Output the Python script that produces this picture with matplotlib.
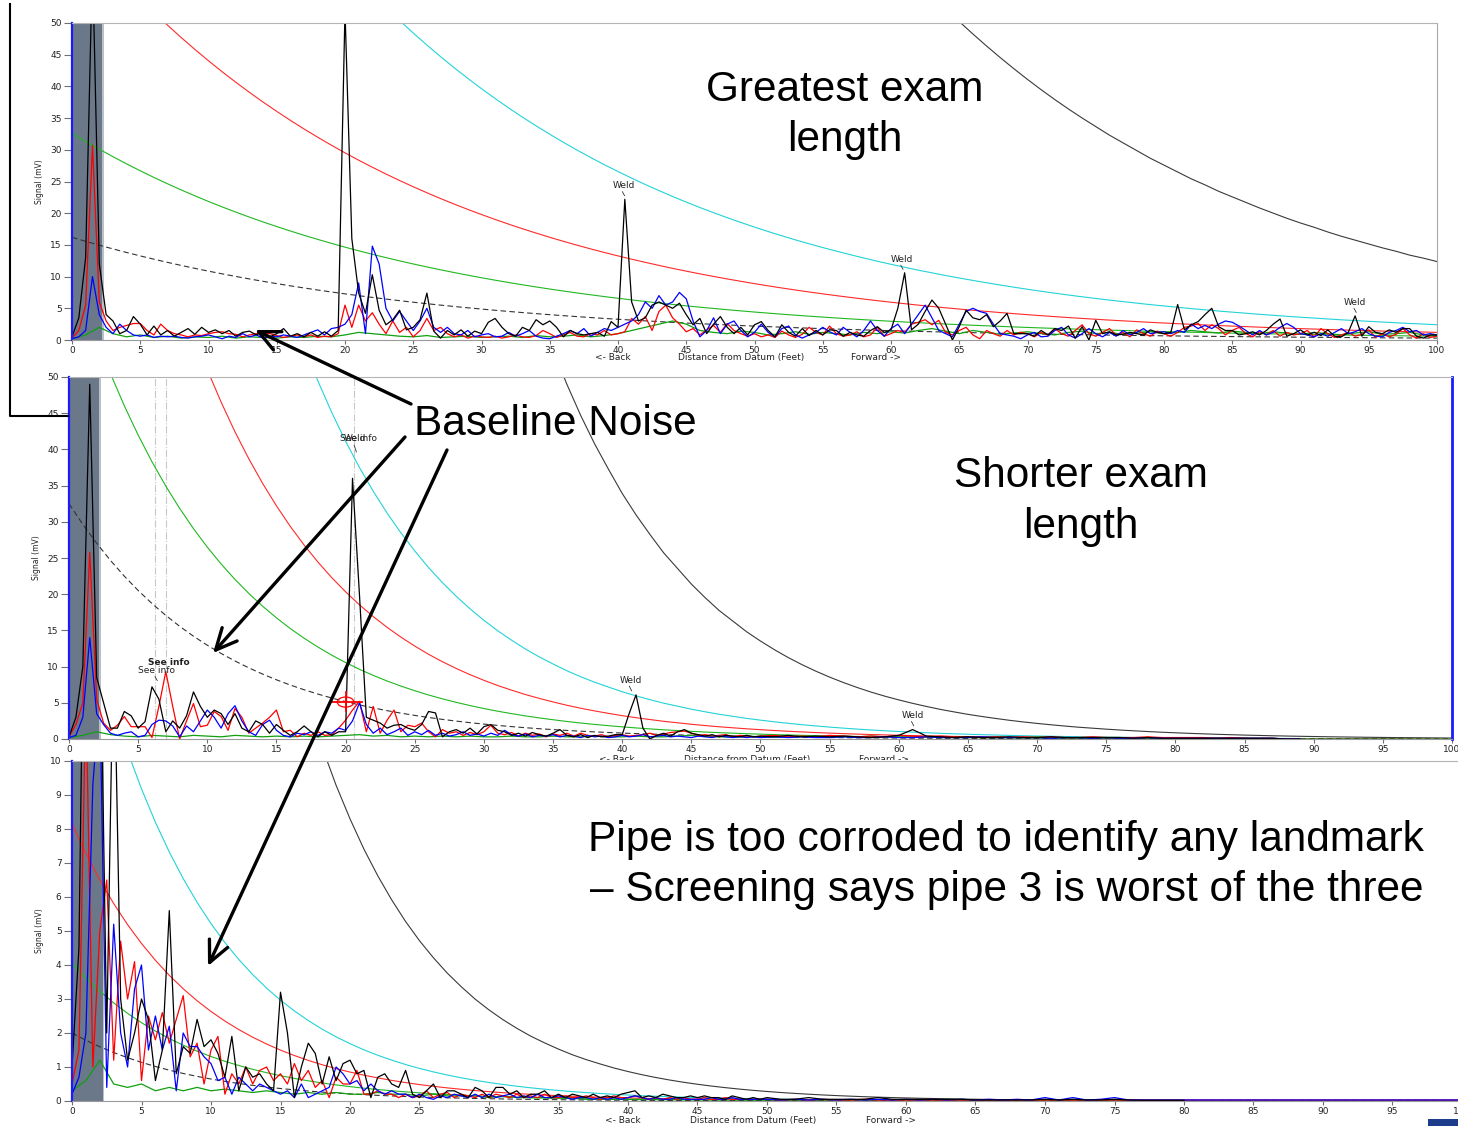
import numpy as np
import matplotlib
matplotlib.use('Agg')
import matplotlib.pyplot as plt
from matplotlib.patches import Rectangle, FancyArrowPatch, Ellipse
from matplotlib.lines import Line2D

# ---------------- DATA ----------------
X_TICKS = list(range(0, 101, 5))
Y_TICKS_12 = list(range(0, 51, 5))
Y_TICKS_3 = list(range(0, 11, 1))

# DAC (distance-amplitude) curves: relative level at 1 ft steps
# (0..100 ft) for each panel, and the level of each curve at 0 ft (mV).
P1_DAC_LEVEL = [
    1.000, 0.9608, 0.9231, 0.8869, 0.8521, 0.8187, 0.7866, 0.7558, 0.7261, 0.6977,
    0.6703, 0.6440, 0.6188, 0.5945, 0.5712, 0.5488, 0.5273, 0.5066, 0.4868, 0.4677,
    0.4493, 0.4317, 0.4148, 0.3985, 0.3829, 0.3679, 0.3535, 0.3396, 0.3263, 0.3135,
    0.3012, 0.2894, 0.2780, 0.2671, 0.2567, 0.2466, 0.2369, 0.2276, 0.2187, 0.2101,
    0.2019, 0.1940, 0.1864, 0.1791, 0.1720, 0.1653, 0.1588, 0.1526, 0.1466, 0.1409,
    0.1353, 0.1300, 0.1249, 0.1200, 0.1153, 0.1108, 0.1065, 0.1023, 0.0983, 0.0944,
    0.0907, 0.0872, 0.0837, 0.0805, 0.0773, 0.0743, 0.0714, 0.0686, 0.0659, 0.0633,
    0.0608, 0.0584, 0.0561, 0.0539, 0.0518, 0.0498, 0.0478, 0.0460, 0.0442, 0.0424,
    0.0408, 0.0392, 0.0376, 0.0362, 0.0347, 0.0334, 0.0321, 0.0308, 0.0296, 0.0284,
    0.0273, 0.0263, 0.0252, 0.0242, 0.0233, 0.0224, 0.0215, 0.0207, 0.0198, 0.0191,
    0.0183]
P2_DAC_LEVEL = [
    1.000, 0.9121, 0.8319, 0.7588, 0.6921, 0.6313, 0.5758, 0.5252, 0.4790, 0.4369,
    0.3985, 0.3635, 0.3315, 0.3024, 0.2758, 0.2516, 0.2294, 0.2093, 0.1909, 0.1741,
    0.1588, 0.1448, 0.1321, 0.1205, 0.1099, 0.1003, 0.0914, 0.0834, 0.0761, 0.0694,
    0.0633, 0.0577, 0.0527, 0.0480, 0.0438, 0.0400, 0.0364, 0.0332, 0.0303, 0.0277,
    0.0252, 0.0230, 0.0210, 0.0191, 0.0175, 0.0159, 0.0145, 0.0132, 0.0121, 0.0110,
    0.01005, 0.00917, 0.00836, 0.00763, 0.00696, 0.00635, 0.00579, 0.00528, 0.00481, 0.00439,
    0.00401, 0.00366, 0.00334, 0.00304, 0.00278, 0.00253, 0.00231, 0.00211, 0.00192, 0.00175,
    0.00160, 0.00146, 0.00133, 0.00121, 0.00111, 0.00101, 0.00092, 0.00084, 0.000765, 0.000698,
    0.000637, 0.000581, 0.000530, 0.000483, 0.000441, 0.000402, 0.000367, 0.000334, 0.000305, 0.000278,
    0.000254, 0.000231, 0.000211, 0.000193, 0.000176, 0.000160, 0.000146, 0.000133, 0.000122, 0.000111,
    0.000101]
P3_DAC_LEVEL = [
    1.000, 0.8932, 0.7977, 0.7125, 0.6364, 0.5684, 0.5077, 0.4534, 0.4050, 0.3617,
    0.3230, 0.2885, 0.2577, 0.2302, 0.2056, 0.1836, 0.1640, 0.1465, 0.1308, 0.1168,
    0.1044, 0.0932, 0.0833, 0.0744, 0.0664, 0.0593, 0.0530, 0.0473, 0.0423, 0.0377,
    0.0337, 0.0301, 0.0269, 0.0240, 0.0215, 0.0192, 0.0171, 0.0153, 0.0137, 0.0122,
    0.0109, 0.00973, 0.00869, 0.00776, 0.00693, 0.00619, 0.00553, 0.00494, 0.00441, 0.00394,
    0.00352, 0.00314, 0.00281, 0.00251, 0.00224, 0.00200, 0.00179, 0.00159, 0.00142, 0.00127,
    0.00114, 0.00101, 0.000906, 0.000809, 0.000723, 0.000645, 0.000576, 0.000515, 0.000460, 0.000411,
    0.000367, 0.000328, 0.000293, 0.000261, 0.000233, 0.000209, 0.000186, 0.000166, 0.000149, 0.000133,
    0.000118, 0.000106, 0.0000944, 0.0000843, 0.0000753, 0.0000673, 0.0000601, 0.0000537, 0.0000479, 0.0000428,
    0.0000382, 0.0000341, 0.0000305, 0.0000272, 0.0000243, 0.0000217, 0.0000194, 0.0000173, 0.0000155, 0.0000138,
    0.0000123]
# level at 0 ft of: dashed black, green, red, cyan, solid black
P1_DAC_START = [16.2, 32.6, 65.7, 131.6, 676]
P2_DAC_START = [32.5, 66.5, 128, 259, 1346]
P3_DAC_START = [2.0, 4.05, 8.15, 16.15, 79.5]

# Signal traces, panel 1: 0.5 ft steps from 0 to 100
P1_TR_BLACK = [
    0.5, 3.5, 13, 60, 12, 4.0, 3.0, 1.0, 1.5, 3.7,
    2.5, 0.8, 2.2, 0.8, 1.5, 0.6, 1.2, 1.8, 0.9, 2.0,
    1.2, 1.6, 1.0, 1.5, 0.6, 1.2, 1.4, 0.8, 1.3, 0.5,
    1.0, 1.8, 0.6, 1.0, 0.5, 1.2, 0.6, 1.3, 0.6, 1.5,
    52, 16, 7.4, 4.2, 10.3, 4.7, 2.4, 3.2, 4.7, 1.6,
    2.0, 3.2, 7.4, 1.4, 0.3, 1.5, 0.8, 1.6, 0.6, 1.4,
    1.0, 2.8, 3.4, 2.0, 1.0, 0.6, 2.0, 1.5, 3.2, 2.4,
    3.0, 2.0, 0.5, 1.5, 1.0, 0.8, 1.0, 1.2, 0.6, 2.9,
    2.0, 22.2, 6.0, 3.0, 3.5, 5.5, 6.0, 5.5, 5.0, 5.8,
    4.0, 2.4, 3.4, 1.0, 2.5, 3.7, 2.0, 1.0, 2.0, 0.8,
    2.4, 2.9, 1.5, 0.5, 2.4, 1.2, 0.6, 1.8, 0.7, 1.5,
    0.8, 1.6, 1.5, 0.6, 1.2, 0.8, 0.6, 1.5, 2.1, 1.2,
    1.6, 5.0, 10.6, 1.6, 2.5, 4.5, 6.3, 5.0, 2.5, 0.0,
    2.1, 4.7, 3.5, 3.2, 4.0, 2.1, 3.0, 4.2, 1.0, 1.0,
    1.0, 0.6, 1.5, 0.8, 1.8, 1.5, 2.2, 0.3, 2.1, 0.0,
    3.1, 1.0, 1.3, 0.8, 0.9, 1.2, 1.0, 0.8, 1.6, 1.2,
    1.0, 1.2, 5.6, 1.6, 2.4, 2.9, 4.0, 5.0, 2.1, 1.5,
    1.5, 0.8, 1.0, 1.3, 0.8, 1.5, 2.5, 3.3, 0.6, 1.0,
    1.6, 0.8, 1.2, 0.7, 1.6, 0.6, 0.5, 1.2, 3.8, 0.6,
    2.1, 1.2, 1.0, 1.6, 1.2, 1.8, 1.8, 0.6, 0.3, 0.8,
    0.8]
P1_TR_RED = [
    0.3, 1.5, 5.5, 30.7, 6.0, 3.0, 1.5, 2.0, 2.3, 2.6,
    2.6, 1.5, 0.8, 2.5, 1.5, 1.0, 0.8, 0.5, 0.8, 0.7,
    1.0, 1.2, 1.3, 1.0, 0.9, 0.5, 0.8, 1.0, 1.2, 1.0,
    0.7, 0.4, 0.6, 0.8, 0.5, 0.8, 0.4, 0.6, 0.5, 1.0,
    5.5, 2.0, 5.5, 3.0, 4.3, 2.5, 1.0, 3.0, 1.2, 2.0,
    0.5, 1.5, 3.4, 1.5, 2.0, 1.0, 0.5, 0.8, 0.3, 0.6,
    0.5, 0.4, 0.6, 0.3, 0.5, 0.8, 0.5, 0.4, 0.7, 1.5,
    1.0, 0.4, 0.8, 1.2, 0.6, 0.5, 1.0, 0.8, 1.5, 0.8,
    1.0, 1.3, 3.4, 2.5, 3.7, 1.5, 4.5, 5.5, 3.5, 2.5,
    1.3, 1.8, 0.8, 1.6, 2.3, 1.2, 2.6, 1.5, 1.0, 0.6,
    1.0, 0.5, 0.8, 0.4, 1.4, 0.8, 0.4, 0.9, 2.0, 1.2,
    0.8, 2.2, 1.0, 0.6, 0.8, 1.3, 0.5, 0.8, 2.0, 0.6,
    1.0, 1.5, 1.2, 2.5, 2.8, 3.2, 2.4, 3.1, 1.2, 0.8,
    1.5, 2.0, 0.8, 0.2, 1.5, 1.0, 0.6, 1.5, 0.8, 1.2,
    1.0, 0.5, 1.2, 0.8, 1.8, 1.0, 0.6, 1.5, 2.4, 1.0,
    0.6, 1.2, 1.8, 0.8, 1.2, 0.5, 1.6, 1.0, 0.6, 1.4,
    1.0, 0.6, 1.2, 2.0, 2.2, 2.6, 1.5, 2.4, 1.8, 0.8,
    1.5, 2.0, 1.0, 0.5, 1.3, 0.8, 1.5, 0.6, 1.2, 0.8,
    1.0, 1.5, 0.5, 1.8, 1.0, 0.4, 0.8, 1.2, 0.6, 0.9,
    1.6, 0.4, 1.0, 0.5, 0.9, 1.8, 0.8, 0.3, 1.0, 0.4,
    0.6]
P1_TR_BLUE = [
    0.2, 0.5, 1.5, 10.0, 4.0, 2.0, 1.0, 2.5, 1.5, 0.8,
    0.6, 0.8, 0.4, 0.6, 0.5, 0.6, 0.4, 0.3, 0.5, 0.6,
    0.8, 0.5, 0.2, 0.6, 0.4, 1.0, 0.5, 0.8, 0.3, 0.6,
    0.5, 0.8, 0.6, 0.4, 0.8, 1.2, 1.6, 0.8, 1.8, 2.0,
    2.5, 4.0, 9.0, 1.0, 14.8, 12.0, 5.0, 3.0, 4.5, 3.0,
    1.5, 3.0, 5.0, 2.0, 1.2, 2.0, 1.0, 0.8, 1.5, 0.5,
    0.8, 1.0, 0.5, 0.6, 1.2, 0.6, 1.0, 1.5, 0.6, 0.3,
    0.2, 0.6, 1.0, 1.5, 1.0, 1.8, 0.6, 1.2, 1.8, 1.5,
    2.0, 2.5, 3.0, 4.0, 6.0, 5.0, 7.0, 5.5, 6.0, 7.5,
    6.5, 3.0, 0.5, 1.5, 3.5, 1.0, 2.5, 3.0, 1.5, 0.5,
    1.2, 2.5, 1.2, 0.5, 1.8, 2.2, 0.8, 0.3, 0.8, 1.2,
    2.0, 1.3, 0.8, 2.0, 1.2, 0.5, 1.5, 3.0, 1.5, 0.6,
    1.8, 2.5, 1.0, 2.5, 4.0, 5.5, 3.5, 1.5, 1.0, 0.5,
    2.5, 4.5, 5.0, 4.5, 4.2, 2.5, 1.0, 0.8, 0.6, 0.2,
    0.8, 1.2, 0.5, 0.6, 1.5, 2.0, 0.8, 0.3, 1.0, 1.8,
    1.0, 0.5, 1.2, 0.6, 1.5, 0.8, 1.2, 1.8, 1.0, 1.2,
    1.3, 1.0, 1.5, 1.2, 2.5, 1.8, 2.3, 1.8, 2.5, 3.0,
    2.8, 2.2, 1.5, 0.8, 1.5, 0.8, 1.2, 2.0, 2.6, 2.0,
    1.0, 0.8, 0.5, 1.0, 0.6, 1.2, 1.8, 1.0, 1.3, 1.8,
    1.0, 0.6, 0.5, 1.2, 1.5, 2.0, 1.3, 1.5, 0.8, 1.0,
    0.8]
# green trace, 1 ft steps
P1_TR_GREEN = [0.2, 0.8, 2.0, 1.0, 0.5, 0.8, 0.4, 0.6, 0.3, 0.5, 0.4, 0.6, 0.3, 0.5, 0.4, 0.3, 0.5,
               0.4, 0.6, 0.5, 0.8, 1.2, 1.0, 0.8, 0.6, 0.5, 0.7, 0.4, 0.5, 0.6, 0.4, 0.5, 0.6, 0.4,
               0.7, 0.5, 0.6, 0.8, 0.5, 0.7, 1.0, 1.5, 2.0, 2.5, 3.0, 2.5, 1.5, 1.2, 1.0, 1.4, 1.2,
               0.8, 1.0, 1.3, 0.9, 1.2, 1.0, 0.8, 1.2, 1.0, 1.3, 1.1, 1.5, 1.8, 1.4, 1.0, 1.5, 1.2,
               0.9, 1.1, 1.3, 1.0, 0.8, 1.2, 1.4, 1.0, 1.2, 0.9, 1.1, 1.3, 1.0, 1.2, 1.5, 1.3, 1.1,
               1.4, 1.2, 1.0, 1.3, 1.1, 0.9, 1.2, 1.0, 0.8, 1.1, 1.3, 0.9, 1.0, 1.2, 0.8, 0.7]

# Panels 2 and 3: head = 0.5 ft steps from 0 to 49.5, tail = 1 ft steps from 50
P2_TR_BLACK = [
    0.3, 3.0, 10, 49, 8.5, 5.0, 1.5, 1.5, 3.8, 3.2,
    1.5, 2.4, 7.2, 5.5, 1.0, 2.5, 1.5, 3.2, 6.5, 4.5,
    3.0, 4.0, 3.5, 2.0, 3.5, 1.5, 1.0, 2.5, 2.0, 0.8,
    2.0, 1.2, 0.5, 1.0, 1.8, 1.0, 0.3, 1.0, 0.5, 1.0,
    1.0, 36, 20, 3.0, 2.6, 2.2, 1.5, 1.9, 2.0, 1.5,
    1.2, 2.0, 3.8, 3.6, 0.3, 1.0, 1.3, 0.8, 1.5, 0.7,
    1.7, 2.0, 1.2, 1.0, 0.5, 0.8, 0.4, 0.9, 0.6, 0.4,
    0.8, 1.3, 0.5, 0.3, 0.6, 0.2, 0.5, 0.3, 0.4, 0.6,
    0.6, 3.5, 6.1, 1.5, 0.0, 0.5, 0.8, 0.4, 1.0, 1.3,
    0.8, 0.6, 0.4, 0.6, 0.3, 0.5, 0.4, 0.3, 0.5, 0.3]
P2_TR_BLACK_TAIL = [0.4, 0.3, 0.5, 0.3, 0.4, 0.3, 0.4, 0.3, 0.2, 0.3, 0.5, 1.3, 0.4, 0.3, 0.2, 0.3,
                    0.2, 0.2, 0.3, 0.2, 0.2, 0.3, 0.2, 0.2, 0.2, 0.2, 0.2, 0.1, 0.2, 0.1, 0.1, 0.1,
                    0.1, 0.1, 0.1, 0.1, 0.1, 0.1, 0.0, 0.0]
P2_TR_RED = [
    0.3, 2.0, 5.0, 25.8, 5.5, 2.2, 1.2, 1.9, 3.1, 1.7,
    1.7, 1.7, 0.2, 4.5, 9.3, 4.5, 0.0, 2.5, 4.9, 1.7,
    1.9, 3.8, 3.1, 1.2, 4.2, 3.0, 0.8, 1.5, 2.2, 3.0,
    4.0, 1.0, 1.2, 0.3, 0.8, 0.5, 1.0, 0.5, 0.6, 1.5,
    2.6, 4.0, 5.2, 1.0, 4.5, 0.8, 2.6, 4.0, 1.0, 1.9,
    1.7, 2.2, 1.0, 0.3, 1.3, 0.8, 1.0, 0.5, 0.9, 0.6,
    1.0, 1.9, 0.8, 0.6, 0.9, 0.4, 0.8, 0.5, 0.7, 0.3,
    0.7, 0.5, 0.8, 0.4, 0.8, 0.5, 0.4, 0.6, 0.3, 0.5,
    0.6, 0.4, 0.5, 0.6, 0.8, 0.5, 0.7, 0.9, 1.0, 1.1,
    0.8, 0.5, 0.6, 0.4, 0.5, 0.6, 0.3, 0.5, 0.4, 0.3]
P2_TR_RED_TAIL = [0.4, 0.5, 0.3, 0.4, 0.3, 0.5, 0.4, 0.3, 0.4, 0.3, 0.5, 0.4, 0.3, 0.4, 0.3, 0.3,
                  0.2, 0.3, 0.2, 0.3, 0.2, 0.3, 0.2, 0.2, 0.3, 0.2, 0.2, 0.2, 0.3, 0.2, 0.2, 0.2,
                  0.2, 0.1, 0.2, 0.1, 0.1, 0.1, 0.0, 0.0]
P2_TR_BLUE = [
    0.2, 0.5, 3.0, 14, 3.5, 2.0, 0.8, 0.5, 0.8, 1.0,
    0.3, 0.5, 2.0, 2.6, 2.5, 1.8, 0.3, 1.8, 1.0, 2.5,
    4.0, 3.0, 1.5, 3.5, 4.6, 2.5, 1.0, 0.5, 2.0, 2.6,
    1.2, 0.5, 0.3, 0.8, 0.6, 1.0, 0.5, 1.0, 0.8, 1.5,
    1.2, 2.5, 5.0, 2.0, 0.8, 1.5, 0.6, 1.0, 1.5, 0.5,
    1.0, 0.6, 1.2, 0.5, 0.8, 0.4, 0.6, 1.0, 0.5, 0.7,
    0.4, 0.8, 0.5, 1.2, 0.6, 0.4, 0.7, 0.3, 0.5, 0.4,
    0.6, 0.3, 0.5, 0.4, 0.2, 0.5, 0.3, 0.4, 0.2, 0.3,
    0.5, 0.3, 0.4, 0.6, 0.3, 0.4, 0.5, 0.3, 0.4, 0.3,
    0.2, 0.4, 0.3, 0.2, 0.4, 0.3, 0.2, 0.3, 0.2, 0.3]
P2_TR_BLUE_TAIL = [0.2, 0.3, 0.2, 0.3, 0.2, 0.2, 0.3, 0.2, 0.2, 0.3, 0.2, 0.2, 0.3, 0.2, 0.2, 0.2,
                   0.3, 0.2, 0.2, 0.2, 0.2, 0.1, 0.2, 0.2, 0.1, 0.2, 0.1, 0.1, 0.2, 0.1, 0.1, 0.1,
                   0.1, 0.1, 0.1, 0.1, 0.1, 0.1, 0.0, 0.0]
P2_TR_GREEN = [0.2, 0.5, 1.0, 0.6, 0.4, 0.3, 0.5, 0.4, 0.3, 0.5, 0.4, 0.3, 0.5, 0.4, 0.3, 0.4, 0.3,
               0.4, 0.3, 0.4, 0.5, 0.6, 0.4, 0.5, 0.3, 0.4, 0.3, 0.4, 0.3, 0.4, 0.3, 0.3, 0.4, 0.3,
               0.3, 0.4, 0.3, 0.3, 0.4, 0.3, 0.3, 0.4, 0.3, 0.3, 0.4, 0.5, 0.4, 0.3, 0.3, 0.4, 0.3,
               0.3, 0.3, 0.4, 0.3, 0.3, 0.3, 0.3, 0.4, 0.3, 0.3, 0.3, 0.3, 0.2, 0.3, 0.3, 0.2, 0.3,
               0.2, 0.2, 0.3, 0.2, 0.2, 0.2, 0.2, 0.2, 0.2, 0.1, 0.2, 0.1, 0.1, 0.1, 0.1, 0.1, 0.1,
               0.1, 0.0]

P3_TR_BLACK = [
    1.0, 4.5, 20, 25, 15, 2.0, 14, 3.0, 1.2, 2.0,
    3.0, 2.4, 0.6, 1.5, 5.6, 0.8, 1.6, 1.4, 2.4, 1.6,
    1.8, 1.4, 0.7, 1.9, 0.3, 1.0, 0.7, 0.8, 0.5, 0.3,
    3.2, 2.0, 0.1, 1.0, 1.7, 1.4, 0.5, 1.3, 0.6, 1.1,
    1.2, 0.8, 0.9, 0.1, 0.7, 0.8, 0.5, 0.4, 0.9, 0.2,
    0.1, 0.3, 0.5, 0.1, 0.3, 0.3, 0.2, 0.1, 0.4, 0.3,
    0.1, 0.4, 0.4, 0.2, 0.3, 0.1, 0.2, 0.2, 0.3, 0.1,
    0.2, 0.1, 0.2, 0.15, 0.1, 0.2, 0.1, 0.15, 0.1, 0.2,
    0.25, 0.3, 0.1, 0.15, 0.1, 0.2, 0.15, 0.1, 0.1, 0.15,
    0.1, 0.15, 0.1, 0.1, 0.05, 0.15, 0.1, 0.05, 0.1, 0.05]
P3_TR_BLACK_TAIL = [0.1, 0.05, 0.05, 0.1, 0.05, 0.05, 0.05, 0.05, 0.1, 0.05, 0.05, 0.05, 0.05, 0.05,
                    0.05, 0.03, 0.03, 0.03, 0.03, 0.03, 0.05, 0.03, 0.05, 0.03, 0.03, 0.05, 0.03,
                    0.02, 0.02, 0.02, 0.02]
P3_TR_RED = [
    0.5, 1.5, 12, 1.0, 5.0, 6.5, 1.2, 4.7, 3.0, 4.1,
    0.6, 2.5, 1.8, 2.6, 1.7, 2.4, 3.1, 1.3, 1.7, 0.5,
    1.5, 1.9, 0.2, 0.8, 0.5, 1.0, 0.5, 0.9, 1.0, 0.6,
    0.8, 0.5, 1.1, 0.6, 0.9, 0.4, 0.6, 0.1, 0.7, 0.5,
    0.5, 0.9, 0.2, 0.2, 0.3, 0.2, 0.2, 0.1, 0.2, 0.1,
    0.15, 0.3, 0.1, 0.2, 0.25, 0.1, 0.2, 0.15, 0.1, 0.2,
    0.1, 0.2, 0.15, 0.1, 0.2, 0.1, 0.15, 0.1, 0.2, 0.1,
    0.1, 0.15, 0.1, 0.1, 0.15, 0.1, 0.05, 0.1, 0.15, 0.1,
    0.1, 0.15, 0.1, 0.05, 0.1, 0.05, 0.1, 0.05, 0.1, 0.05,
    0.05, 0.1, 0.05, 0.05, 0.1, 0.05, 0.05, 0.05, 0.05, 0.05]
P3_TR_RED_TAIL = [0.05, 0.03, 0.05, 0.03, 0.05, 0.03, 0.03, 0.05, 0.03, 0.03, 0.03, 0.03, 0.03, 0.03,
                  0.03, 0.03, 0.03, 0.03, 0.03, 0.03, 0.03, 0.03, 0.03, 0.03, 0.03, 0.03, 0.03,
                  0.03, 0.03, 0.03, 0.03, 0.03, 0.03, 0.03, 0.03, 0.03, 0.03, 0.03, 0.03, 0.03,
                  0.03, 0.03, 0.03, 0.03, 0.03, 0.03, 0.03, 0.03, 0.03, 0.03, 0.03]
P3_TR_BLUE = [
    0.2, 0.7, 2.0, 9.3, 12, 0.4, 5.2, 2.0, 1.0, 3.3,
    4.0, 1.5, 2.5, 1.5, 2.2, 0.3, 2.0, 1.6, 1.6, 1.3,
    1.1, 0.6, 0.7, 0.2, 0.7, 0.5, 0.3, 0.5, 0.4, 0.3,
    0.2, 0.3, 0.1, 0.5, 0.1, 0.2, 0.3, 0.4, 1.0, 0.8,
    0.5, 0.6, 0.3, 0.5, 0.3, 0.2, 0.3, 0.2, 0.2, 0.1,
    0.2, 0.1, 0.05, 0.15, 0.1, 0.2, 0.15, 0.1, 0.2, 0.1,
    0.2, 0.1, 0.15, 0.2, 0.1, 0.15, 0.1, 0.2, 0.1, 0.1,
    0.15, 0.1, 0.05, 0.1, 0.1, 0.05, 0.1, 0.05, 0.1, 0.05,
    0.1, 0.15, 0.1, 0.05, 0.1, 0.05, 0.05, 0.1, 0.05, 0.05,
    0.05, 0.05, 0.1, 0.05, 0.05, 0.1, 0.05, 0.05, 0.05, 0.05]
P3_TR_BLUE_TAIL = [0.05, 0.03, 0.05, 0.03, 0.05, 0.03, 0.05, 0.03, 0.05, 0.03, 0.05, 0.03, 0.05,
                   0.03, 0.05, 0.03, 0.05, 0.03, 0.05, 0.03, 0.1, 0.03, 0.1, 0.03, 0.05, 0.1, 0.03,
                   0.03, 0.03, 0.03, 0.03, 0.03, 0.03, 0.03, 0.03, 0.03, 0.03, 0.03, 0.03, 0.03,
                   0.03, 0.03, 0.03, 0.03, 0.03, 0.03, 0.03, 0.03, 0.03, 0.03, 0.03]
P3_TR_GREEN = [0.3, 0.6, 1.2, 0.5, 0.4, 0.5, 0.3, 0.4, 0.3, 0.4, 0.3, 0.35, 0.3, 0.25, 0.3, 0.25,
               0.2, 0.25, 0.2, 0.25, 0.2, 0.2, 0.25, 0.2, 0.2, 0.15, 0.2, 0.15, 0.15, 0.15, 0.1,
               0.15, 0.1, 0.1, 0.1, 0.1, 0.1, 0.05, 0.05, 0.05, 0.05, 0.05, 0.05, 0.05, 0.05]

# ---------------- FIGURE ----------------
W, H = 1458, 1126
fig = plt.figure(figsize=(W / 100, H / 100), dpi=100)
fig.patch.set_facecolor('white')


def fx(x):
    return x / W


def fy(y):
    return 1 - y / H


C_CYAN = '#22d3d8'
C_RED = '#ff2a2a'
C_GREEN = '#20b820'
C_DAC_K = '#3a3a3a'
BAND = '#6b7889'


def make_axes(left, top, right, bottom, ymax, yticks, z, rightcolor='#a8a8a8'):
    ax = fig.add_axes([fx(left), fy(bottom), fx(right - left), (bottom - top) / H], zorder=z)
    ax.set_xlim(0, 100)
    ax.set_ylim(0, ymax)
    ax.set_xticks(X_TICKS)
    ax.set_xticklabels([str(t) for t in X_TICKS])
    ax.set_yticks(yticks)
    ax.set_yticklabels([str(t) for t in yticks])
    ax.tick_params(axis='x', direction='out', length=3, width=0.8, color='#707070',
                   labelsize=6.5, labelcolor='#222222', pad=1.5)
    ax.tick_params(axis='y', direction='out', length=6, width=0.8, color='#707070',
                   labelsize=6.5, labelcolor='#222222', pad=1.5)
    ax.spines['top'].set_color('#b4b4b4')
    ax.spines['bottom'].set_color('#9a9a9a')
    ax.spines['left'].set_color('#1a1aff')
    ax.spines['left'].set_linewidth(1.6)
    ax.spines['right'].set_color(rightcolor)
    ax.set_ylabel('Signal (mV)', fontsize=5.5, family=['Liberation Sans Narrow', 'DejaVu Sans'],
                  color='#222222')
    ax.axvspan(0, 2.2, color=BAND, zorder=0.5, lw=0)
    ax.axvspan(2.2, 2.32, color='#b9c0c8', zorder=0.5, lw=0)
    return ax


def draw_dacs(ax, level, starts):
    xs = np.arange(len(level))
    lv = np.array(level)
    dash, green, red, cyan, black = starts
    ax.plot(xs, black * lv, color=C_DAC_K, lw=0.8, zorder=1)
    ax.plot(xs, cyan * lv, color=C_CYAN, lw=0.8, zorder=1)
    ax.plot(xs, red * lv, color=C_RED, lw=0.8, zorder=1)
    ax.plot(xs, green * lv, color=C_GREEN, lw=0.8, zorder=1)
    ax.plot(xs, dash * lv, color='#333333', lw=0.8, ls=(0, (5, 3)), zorder=1)


def xlabel_row(ax, yfrac):
    kw = dict(transform=ax.get_xaxis_transform(), fontsize=6.5, color='#222222',
              ha='center', va='center', clip_on=False)
    ax.text(39.6, yfrac, '<- Back', **kw)
    ax.text(49.0, yfrac, 'Distance from Datum (Feet)', **kw)
    ax.text(58.9, yfrac, 'Forward ->', **kw)


def label(ax, x, ytext, ypeak, text='Weld', **kw):
    ax.text(x, ytext, text, ha='center', va='bottom', fontsize=6.5, color='#222222', zorder=5, **kw)
    ax.plot([x - 0.08, x + 0.08], [ytext - 0.15 * (ytext - ypeak), ytext - 0.6 * (ytext - ypeak)],
            color='#333333', lw=0.6, zorder=5)


def head_tail_x(head, tail):
    return np.concatenate([np.arange(len(head)) * 0.5, 50 + np.arange(len(tail))])


def traces(ax, green, red, blue, black, red_t=None, blue_t=None, black_t=None):
    ax.plot(np.arange(len(green)), green, color='#10a010', lw=0.9, zorder=2)
    for vals, tail, col in ((red, red_t, '#ff0000'), (blue, blue_t, '#0000ff'), (black, black_t, '#000000')):
        if tail is None:
            ax.plot(np.arange(len(vals)) * 0.5, vals, color=col, lw=0.9, zorder=2)
        else:
            ax.plot(head_tail_x(vals, tail), vals + tail, color=col, lw=0.9, zorder=2)


# ---------- Panel 1 ----------
ax1 = make_axes(72, 23, 1437, 340, 50, Y_TICKS_12, 1, rightcolor='#a8a8a8')
draw_dacs(ax1, P1_DAC_LEVEL, P1_DAC_START)
traces(ax1, P1_TR_GREEN, P1_TR_RED, P1_TR_BLUE, P1_TR_BLACK)
ax1.yaxis.set_label_coords(-0.0206, 0.5)
xlabel_row(ax1, -0.056)
label(ax1, 40.4, 23.6, 22.2)
label(ax1, 60.8, 12.0, 10.6)
label(ax1, 94.0, 5.2, 3.8)

# ---------- Panel 2 ----------
ax2 = make_axes(69, 377, 1452, 739, 50, Y_TICKS_12, 1, rightcolor='#1a1aff')
ax2.spines['right'].set_linewidth(2.0)
for xv in (6.2, 7.0, 20.6):
    ax2.axvline(xv, color='#c8c8c8', lw=0.8, ls='-.', zorder=0.8)
draw_dacs(ax2, P2_DAC_LEVEL, P2_DAC_START)
traces(ax2, P2_TR_GREEN, P2_TR_RED, P2_TR_BLUE, P2_TR_BLACK,
       P2_TR_RED_TAIL, P2_TR_BLUE_TAIL, P2_TR_BLACK_TAIL)
ax2.yaxis.set_label_coords(-0.0203, 0.5)
xlabel_row(ax2, -0.058)
label(ax2, 40.6, 7.5, 6.1)
label(ax2, 61.0, 2.6, 1.3)
label(ax2, 20.7, 40.9, 38.8)
ax2.text(20.9, 40.9, 'See info', ha='center', va='bottom', fontsize=6.5, color='#222222', zorder=5)
label(ax2, 6.3, 8.8, 7.6, text='See info')
ax2.text(7.2, 10.0, 'See info', ha='center', va='bottom', fontsize=6.5, fontweight='bold',
         color='#222222', zorder=5)
# red cursor marker
ax2.add_patch(Ellipse((20.0, 5.1), 1.2, 1.4, fill=False, ec='#ff0000', lw=0.9, zorder=4))
ax2.plot([19.0, 21.2], [5.1, 5.1], color='#ff0000', lw=1.3, zorder=4)
ax2.plot([20.0, 20.0], [3.8, 6.5], color='#ff0000', lw=1.3, zorder=4)

# cover for the lower picture
fig.add_artist(Rectangle((0, 0), 1, fy(760), transform=fig.transFigure, facecolor='white',
                         edgecolor='none', zorder=1.5))

# ---------- Panel 3 ----------
ax3 = make_axes(72, 761, 1462, 1101, 10, Y_TICKS_3, 2)
draw_dacs(ax3, P3_DAC_LEVEL, P3_DAC_START)
traces(ax3, P3_TR_GREEN, P3_TR_RED, P3_TR_BLUE, P3_TR_BLACK,
       P3_TR_RED_TAIL, P3_TR_BLUE_TAIL, P3_TR_BLACK_TAIL)
ax3.yaxis.set_label_coords(-0.0205, 0.5)
xlabel_row(ax3, -0.056)

# ---------- frame line of the first picture ----------
fig.add_artist(Line2D([fx(10), fx(10), fx(68)], [fy(4), fy(416), fy(416)], transform=fig.transFigure,
                      color='black', lw=1.5, zorder=3))

# ---------- callout texts ----------
TXT = dict(fontsize=30.5, family=['Liberation Sans', 'DejaVu Sans'], color='black', zorder=6,
           va='baseline')
fig.text(fx(845), fy(101), 'Greatest exam', ha='center', **TXT)
fig.text(fx(845), fy(151), 'length', ha='center', **TXT)
fig.text(fx(414), fy(435), 'Baseline Noise', ha='left', **TXT)
fig.text(fx(1081), fy(487), 'Shorter exam', ha='center', **TXT)
fig.text(fx(1081), fy(538), 'length', ha='center', **TXT)
fig.text(fx(588), fy(851), 'Pipe is too corroded to identify any landmark', ha='left', **TXT)
fig.text(fx(590), fy(901), '\u2013 Screening says pipe 3 is worst of the three', ha='left', **TXT)

for (x0, y0), (x1, y1) in [((411, 404), (255, 330)), ((405, 437), (213, 653)), ((447, 450), (208, 966))]:
    arr = FancyArrowPatch((fx(x0), fy(y0)), (fx(x1), fy(y1)), transform=fig.transFigure,
                          arrowstyle='->,head_length=0.95,head_width=0.45', mutation_scale=16,
                          color='black', lw=2.4, zorder=7, shrinkA=0, shrinkB=0)
    fig.add_artist(arr)

fig.add_artist(Rectangle((fx(1428), 0), fx(30), 7 / H, transform=fig.transFigure,
                         facecolor='#1c3c8c', edgecolor='none', zorder=3))

fig.savefig('out.png', dpi=100, facecolor='white')
